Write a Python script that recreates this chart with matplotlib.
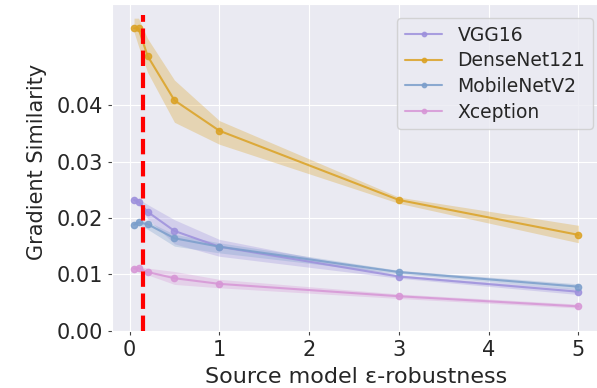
import numpy as np
import matplotlib
matplotlib.use("Agg")
import matplotlib.pyplot as plt
import seaborn as sns

# epsilon values of the robust source models
eps = [0.05, 0.1, 0.2, 0.5, 1, 3, 5]
eps_marker = 0.15
models = ["VGG16", "DenseNet121", "MobileNetV2", "Xception"]

# mean similarity and band edges per model
vgg_mean = [0.0232, 0.0229, 0.0211, 0.0177, 0.0149, 0.0096, 0.0069]
vgg_lo = [0.0228, 0.0224, 0.0199, 0.0154, 0.0132, 0.0093, 0.0064]
vgg_hi = [0.0236, 0.0234, 0.0224, 0.0197, 0.0162, 0.0099, 0.0074]

dense_mean = [0.0537, 0.0537, 0.0488, 0.0409, 0.0355, 0.0232, 0.0170]
dense_lo = [0.0530, 0.0505, 0.0459, 0.0370, 0.0331, 0.0226, 0.0156]
dense_hi = [0.0555, 0.0555, 0.0519, 0.0445, 0.0373, 0.0237, 0.0187]

mobile_mean = [0.0188, 0.0192, 0.0189, 0.0164, 0.0149, 0.0104, 0.0078]
mobile_lo = [0.0185, 0.0188, 0.0180, 0.0150, 0.0138, 0.0101, 0.0073]
mobile_hi = [0.0191, 0.0196, 0.0194, 0.0171, 0.0156, 0.0107, 0.0083]

xcep_mean = [0.0110, 0.0111, 0.0104, 0.0093, 0.0083, 0.0061, 0.0043]
xcep_lo = [0.0107, 0.0108, 0.0099, 0.0082, 0.0076, 0.0057, 0.0040]
xcep_hi = [0.0113, 0.0114, 0.0111, 0.0105, 0.0091, 0.0065, 0.0047]

means = [vgg_mean, dense_mean, mobile_mean, xcep_mean]
lows = [vgg_lo, dense_lo, mobile_lo, xcep_lo]
highs = [vgg_hi, dense_hi, mobile_hi, xcep_hi]
colors = ["#9d90dc", "#dba224", "#7b9ecb", "#d796d6"]

sns.set_style("darkgrid")
plt.rcParams["xtick.bottom"] = True
plt.rcParams["ytick.left"] = True

fig = plt.figure(figsize=(5.97, 3.88), dpi=100)
ax = fig.add_axes([0.1873, 0.148, 0.8189, 0.8415])

for name, m, lo, hi, c in zip(models, means, lows, highs, colors):
    ax.plot(eps, m, marker="o", markersize=4.5, lw=1.5, color=c, alpha=0.85, label=name)
    ax.fill_between(eps, lo, hi, color=c, alpha=0.3, lw=0)

ax.vlines(eps_marker, 0, 0.056, colors="red", linestyles="--", lw=3, zorder=5)

ax.set_xlim(-0.1975, 5.2475)
ax.set_ylim(0, 0.058)
ax.set_yticks([0, 0.01, 0.02, 0.03, 0.04])
ax.set_yticklabels(["0.00", "0.01", "0.02", "0.03", "0.04"])
ax.tick_params(labelsize=15, length=3, color="#444444")
ax.set_xlabel("Source model ε-robustness", fontsize=16, labelpad=5)
ax.set_ylabel("Gradient Similarity", fontsize=15)
ax.yaxis.set_label_coords(-0.133, 0.516)

leg = ax.legend(loc="upper right", fontsize=13.5, markerscale=0.7,
                labelspacing=0.35, bbox_to_anchor=(1.003, 0.985))

plt.savefig("out.png", dpi=100)
